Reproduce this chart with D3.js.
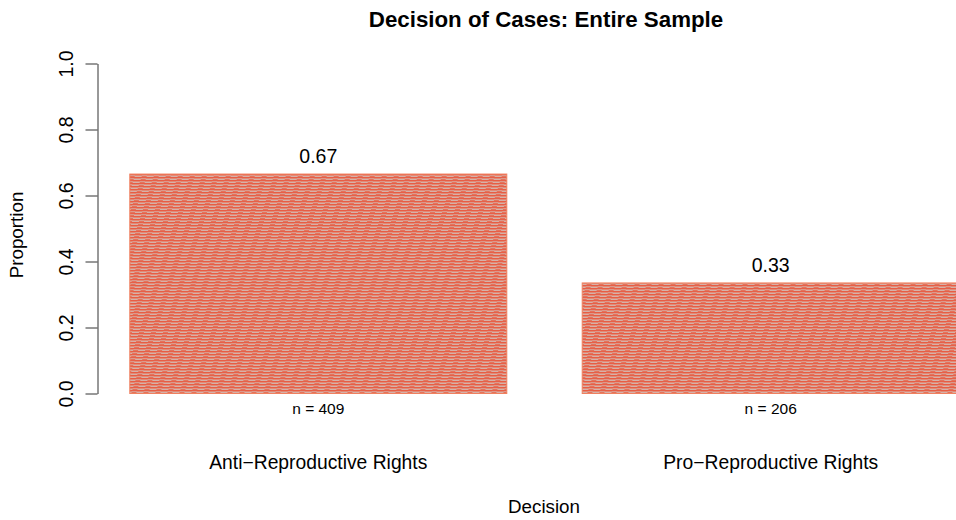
<!DOCTYPE html>
<html><head><meta charset="utf-8">
<script src="https://cdn.jsdelivr.net/npm/d3@7"></script>
<style>body{margin:0;background:#fff}svg{font-family:"Liberation Sans",Arial,Helvetica,sans-serif}</style>
</head><body>
<svg id="c" width="956" height="520"></svg>
<script>
const categories = ["Anti\u2212Reproductive Rights", "Pro\u2212Reproductive Rights"];
const proportions = [0.665, 0.335];
const valueLabels = ["0.67", "0.33"];
const counts = ["n = 409", "n = 206"];
const yTicks = [0, 0.2, 0.4, 0.6, 0.8, 1.0];

const svg = d3.select("#c");

// R barplot-like x domain: width 1, space 0.2
const x = d3.scaleLinear().domain([0, 2.6]).range([54.4, 54.4 + 2.6 * 377]);
const y = d3.scaleLinear().domain([0, 1]).range([393.5, 63.5]);

// pattern
const defs = svg.append("defs");
const pat = defs.append("pattern").attr("id", "hatch").attr("patternUnits", "userSpaceOnUse")
  .attr("width", 12).attr("height", 3).attr("patternTransform", "skewX(-18)");
pat.append("rect").attr("x", 0).attr("y", 0).attr("width", 12).attr("height", 3).attr("fill", "#d4b8b1");
pat.append("rect").attr("x", 0).attr("y", 0).attr("width", 12).attr("height", 1).attr("fill", "#e8553c");
pat.append("rect").attr("x", 0).attr("y", 1).attr("width", 7).attr("height", 1).attr("fill", "#e97a60");
pat.append("rect").attr("x", 7).attr("y", 2).attr("width", 5).attr("height", 1).attr("fill", "#e66a50");

const bars = svg.append("g");
categories.forEach((c, i) => {
  const x0 = 0.2 + i * 1.2, x1 = x0 + 1;
  bars.append("rect").attr("x", x(x0)).attr("y", y(proportions[i]))
    .attr("width", x(x1) - x(x0)).attr("height", y(0) - y(proportions[i]))
    .attr("fill", "url(#hatch)").attr("stroke", "#f0805f").attr("stroke-width", 1);
  const cx = x(x0 + 0.5);
  svg.append("text").attr("x", cx).attr("y", y(proportions[i]) - 11).attr("text-anchor", "middle")
    .attr("font-size", 19.5).attr("fill", "#000").text(valueLabels[i]);
  svg.append("text").attr("x", cx).attr("y", 414).attr("text-anchor", "middle")
    .attr("font-size", 15.5).attr("fill", "#000").text(counts[i]);
  svg.append("text").attr("x", cx).attr("y", 469).attr("text-anchor", "middle")
    .attr("font-size", 19.3).attr("fill", "#000").text(c);
});

// y axis
const yAxis = d3.axisLeft(y).tickValues(yTicks).tickFormat(d3.format(".1f")).tickSize(12).tickSizeOuter(0);
const ga = svg.append("g").attr("transform", "translate(97.5,0)").call(yAxis);
ga.select(".domain").attr("stroke", "#333");
ga.selectAll(".tick line").attr("stroke", "#333");
ga.selectAll(".tick text").attr("font-size", 19.5).attr("fill", "#000")
  .attr("font-family", "Liberation Sans, Arial, sans-serif")
  .attr("x", null).attr("y", null).attr("dy", null)
  .attr("text-anchor", "middle")
  .attr("transform", "translate(-25,0) rotate(-90)");

// titles
svg.append("text").attr("x", 546).attr("y", 27).attr("text-anchor", "middle")
  .attr("font-size", 22.3).attr("font-weight", "bold").text("Decision of Cases: Entire Sample");
svg.append("text").attr("x", 544).attr("y", 513).attr("text-anchor", "middle")
  .attr("font-size", 18.8).text("Decision");
svg.append("text").attr("transform", "translate(23,235) rotate(-90)").attr("text-anchor", "middle")
  .attr("font-size", 18.8).text("Proportion");
</script>
</body></html>
